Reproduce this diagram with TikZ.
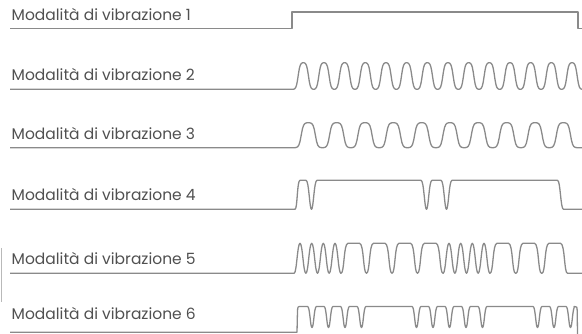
\documentclass[tikz,border=0pt]{standalone}
\usepackage{fontspec}
\setmainfont{Poppins}
\usepackage{tikz}
\usepackage{xcolor}
\usetikzlibrary{positioning}
\definecolor{cWave}{RGB}{138,138,138}
\definecolor{cText}{RGB}{80,80,80}
\tikzset{
	wave/.style     ={line width=1.3pt, cWave, line join=round},
	label/.style    ={anchor=base west, inner sep=0pt, text=cText, font=\fontsize{15.5}{18}\selectfont},
}
\begin{document}
\begin{tikzpicture}[x=1pt, y=-1pt]
	\useasboundingbox (0,0) rectangle (582,334);
	% labels
	\node[label] (lab1) at (11.5,20.5)  {Modalità di vibrazione 1};
	\node[label] (lab2) at (11.5,81)    {Modalità di vibrazione 2};
	\node[label] (lab3) at (11.5,139.5) {Modalità di vibrazione 3};
	\node[label] (lab4) at (11.5,201)   {Modalità di vibrazione 4};
	\node[label] (lab5) at (11.5,265)   {Modalità di vibrazione 5};
	\node[label] (lab6) at (11.5,319.5) {Modalità di vibrazione 6};
	\draw[cWave!60, line width=0.8pt] (1,248) -- (1,302);
	% 1: continuous
	\draw[wave] (10,28.3) -- (292,28.3) -- (292,12) -- (578,12) -- (578,28.3) -- (582,28.3);
	% 2: fast
	\draw[wave] (10,89.3) -- (293,89.3) -- plot[domain=293:582, samples=320]
		(\x, {76-13.3*tanh(1.6*cos(360*((\x-303.3)/20.67)))/tanh(1.6)});
	% 3: slow
	\draw[wave] (10,147.7) -- (294.1,147.7) -- plot[domain=294.1:577.3, samples=240]
		(\x, {135.2-12.5*tanh(2*cos(360*((\x-308.3)/28.35)))/tanh(2)}) -- (582,147.7);
	% 4: double pulse
	\draw[wave] (10,209.3) -- (295,209.3) .. controls (297.5,209.3) and (297,180.3) .. (300,180.3)
		\foreach \d in {311.5,426.5,446.5} {
			-- (\d-5.5,180.3) .. controls (\d-2.5,180.3) and (\d-2,209.3) .. (\d,209.3)
			.. controls (\d+2,209.3) and (\d+2.5,180.3) .. (\d+5.5,180.3) }
		-- (557.5,180.3) .. controls (560.5,180.3) and (560.5,209.3) .. (563.5,209.3) -- (582,209.3);
	% 5: burst + pulses
	\draw[wave] (10,273.3) -- (294.2,273.3)
		\foreach \c in {300,311.7,323.3,335} {
			-- (\c-5.85,273.3) .. controls (\c-3.3,273.3) and (\c-2.6,243.3) .. (\c,243.3)
			.. controls (\c+2.6,243.3) and (\c+3.3,273.3) .. (\c+5.85,273.3) }
		\foreach \s in {341,366.5,392,417.5} {
			-- (\s,273.3) .. controls (\s+3.5,273.3) and (\s+2.5,243.3) .. (\s+7,243.3)
			-- (\s+18.5,243.3) .. controls (\s+23,243.3) and (\s+22,273.3) .. (\s+25.5,273.3) }
		\foreach \c in {449,460.7,472.3,484} {
			-- (\c-5.85,273.3) .. controls (\c-3.3,273.3) and (\c-2.6,243.3) .. (\c,243.3)
			.. controls (\c+2.6,243.3) and (\c+3.3,273.3) .. (\c+5.85,273.3) }
		\foreach \s in {490,516,542} {
			-- (\s,273.3) .. controls (\s+3.5,273.3) and (\s+2.5,243.3) .. (\s+7,243.3)
			-- (\s+18.5,243.3) .. controls (\s+23,243.3) and (\s+22,273.3) .. (\s+25.5,273.3) }
		-- (582,273.3);
	% 6: grouped dips
	\draw[wave] (10,332.3) -- (297,332.3) -- (297.5,311) .. controls (297.8,306.5) .. (301,306.5)
		\foreach \d in {312,328.5,345,361.5,416.5,433,449.5,466,482.5,537.5,554,570.5} {
			-- (\d-4.5,306.5) .. controls (\d-2,306.5) and (\d-1.8,327.5) .. (\d,327.5)
			.. controls (\d+1.8,327.5) and (\d+2,306.5) .. (\d+4.5,306.5) }
		-- (574,306.5) .. controls (577,306.5) .. (577.2,311) -- (577.5,334);
\end{tikzpicture}
\end{document}
